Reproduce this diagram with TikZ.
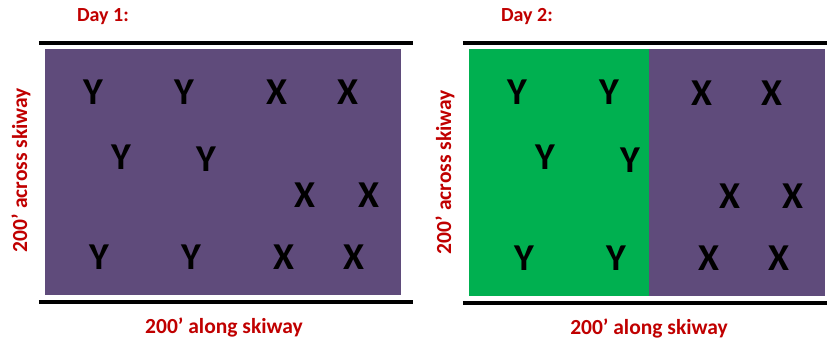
\documentclass[tikz,border=0pt]{standalone}
\usepackage{fontspec}
\setmainfont{Carlito}
\definecolor{plotpurple}{RGB}{95,75,123}
\definecolor{plotgreen}{RGB}{0,176,80}
\definecolor{textred}{RGB}{192,0,0}

\tikzstyle{plot}=[rectangle,inner sep=0pt,draw=none]
\tikzstyle{letter}=[font=\fontsize{38}{38}\selectfont\bfseries,inner sep=0pt]
\tikzstyle{skiway}=[line width=4.5pt]
\tikzstyle{dimtext}=[text=textred,font=\fontsize{21.5}{21.5}\selectfont\bfseries,inner sep=0pt]
\tikzstyle{daytext}=[text=textred,font=\fontsize{20}{20}\selectfont\bfseries,inner sep=0pt]

\begin{document}
\begin{tikzpicture}[x=1pt,y=-1pt]
\useasboundingbox (0,0) rectangle (827,341);
% Day 1
\node[plot,fill=plotpurple,minimum width=356pt,minimum height=246pt] (plotA) at (223,172) {};
\draw[skiway] ([xshift=-6pt,yshift=6pt]plotA.north west) -- ([xshift=12pt,yshift=6pt]plotA.north east);
\draw[skiway] ([xshift=-6pt,yshift=-7pt]plotA.south west) -- ([xshift=12pt,yshift=-7pt]plotA.south east);
\node[daytext] (dayA) at (103,17) {Day 1:};
\node[dimtext,rotate=90] (acrossA) at (21,170) {200’ across skiway};
\node[dimtext] (alongA) at (224,327) {200’ along skiway};
\foreach \pos/\name/\txt in {{(93,92)/a1/Y}, {(184,92)/a2/Y}, {(277,92)/a3/X}, {(348,92)/a4/X},
  {(121,157)/a5/Y}, {(206,159)/a6/Y}, {(305,195)/a7/X}, {(369,195)/a8/X},
  {(99,257)/a9/Y}, {(191,257)/a10/Y}, {(284,257)/a11/X}, {(354,257)/a12/X}}
\node[letter] (\name) at \pos {\txt};
% Day 2
\node[plot,fill=plotgreen,minimum width=180pt,minimum height=247pt] (plotBY) at (559,172.5) {};
\node[plot,fill=plotpurple,minimum width=176pt,minimum height=247pt,anchor=west] (plotBX) at (plotBY.east) {};
\draw[skiway] ([xshift=-6pt,yshift=6pt]plotBY.north west) -- ([xshift=2pt,yshift=6pt]plotBX.north east);
\draw[skiway] ([xshift=-6pt,yshift=-7pt]plotBY.south west) -- ([xshift=2pt,yshift=-7pt]plotBX.south east);
\node[daytext] (dayB) at (527,17) {Day 2:};
\node[dimtext,rotate=90] (acrossB) at (445,172) {200’ across skiway};
\node[dimtext] (alongB) at (649,328) {200’ along skiway};
\foreach \pos/\name/\txt in {{(517,92)/b1/Y}, {(609,92)/b2/Y}, {(702,93)/b3/X}, {(772,93)/b4/X},
  {(545,157)/b5/Y}, {(630,160)/b6/Y}, {(730,196)/b7/X}, {(793,196)/b8/X},
  {(524,258)/b9/Y}, {(616,258)/b10/Y}, {(709,258)/b11/X}, {(779,258)/b12/X}}
\node[letter] (\name) at \pos {\txt};
\end{tikzpicture}
\end{document}
